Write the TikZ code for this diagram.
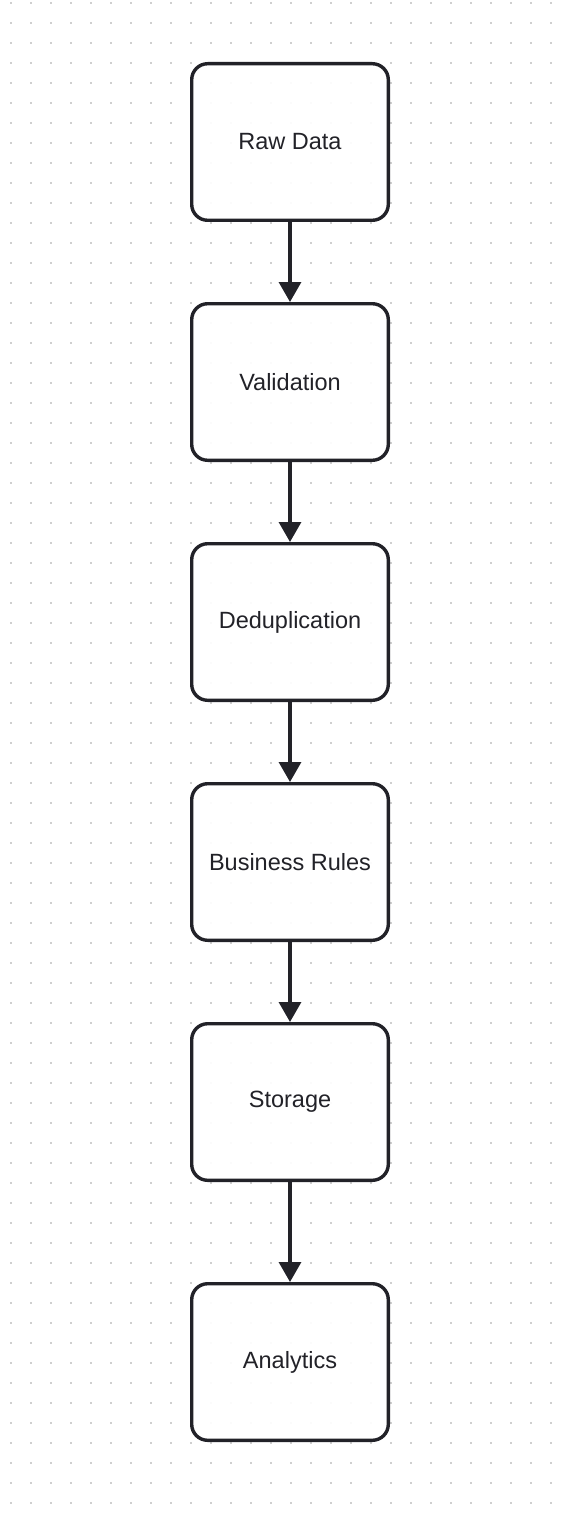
\documentclass[tikz,border=0pt]{standalone}
\usepackage{fontspec}
\setmainfont{Liberation Sans}
\usetikzlibrary{arrows.meta}
\definecolor{ink}{HTML}{222228}
\definecolor{dotc}{HTML}{CFCFCF}
\tikzset{
  stepbox/.style={draw=ink, line width=3.4pt, rounded corners=16pt, fill=white, fill opacity=0.92, text opacity=1,
    minimum width=196.6pt, minimum height=156.6pt, inner sep=0pt, text=ink, font=\fontsize{23.5}{26}\selectfont},
  flow/.style={draw=ink, line width=3.2pt, -{Triangle[width=22pt,length=20pt]}}
}
\begin{document}
\begin{tikzpicture}[x=1pt,y=-1pt]
\useasboundingbox (0,0) rectangle (560,1514);
\fill[white] (0,0) rectangle (560,1514);
\foreach \i in {0,...,27}{
  \foreach \j in {0,...,75}{
    \fill[dotc] ({11+20*\i-1},{3+20*\j-1}) rectangle ++(2,2);
  }
}
\node[stepbox] (a) at (290,142) {Raw Data};
\node[stepbox] (b) at (290,382) {Validation};
\node[stepbox] (c) at (290,622) {Deduplication};
\node[stepbox] (d) at (290,862) {Business Rules};
\node[stepbox] (e) at (290,1102) {Storage};
\node[stepbox] (f) at (290,1362) {Analytics};
\draw[flow] (a) -- (b);
\draw[flow] (b) -- (c);
\draw[flow] (c) -- (d);
\draw[flow] (d) -- (e);
\draw[flow] (e) -- (f);
\end{tikzpicture}
\end{document}
